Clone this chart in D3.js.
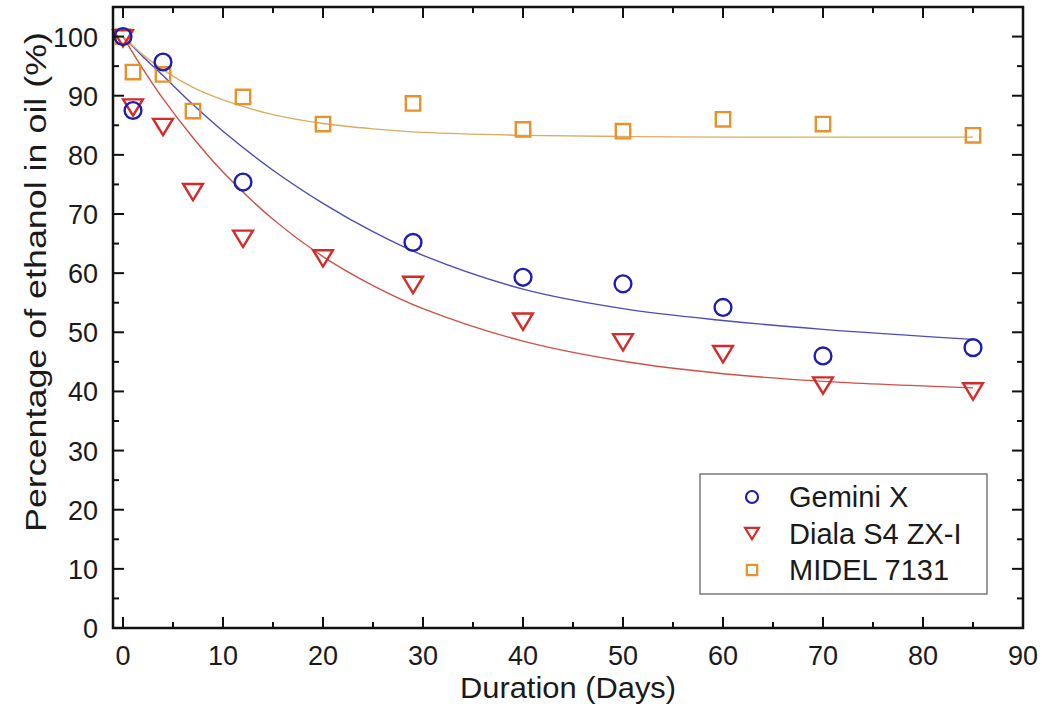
<!DOCTYPE html>
<html lang="en">
<head>
<meta charset="UTF-8">
<title>Ethanol in oil</title>
<style>
  html, body { margin: 0; padding: 0; background: #fff; overflow: hidden; }
  svg { display: block; font-family: Arial, 'Liberation Sans', sans-serif; }
</style>
</head>
<body>
<svg width="1056" height="707"></svg>
<script src="https://d3js.org/d3.v7.min.js"></script>
<script>
// measured points
const geminiDays = [0, 1, 4, 12, 29, 40, 50, 60, 70, 85];
const geminiPct = [100, 87.5, 95.7, 75.4, 65.2, 59.3, 58.2, 54.2, 46.0, 47.4];

const dialaDays = [0, 1, 4, 7, 12, 20, 29, 40, 50, 60, 70, 85];
const dialaPct = [99.7, 88.0, 84.7, 73.7, 65.8, 62.5, 58.0, 51.8, 48.3, 46.3, 41.0, 40.0];

const midelDays = [0, 1, 4, 7, 12, 20, 29, 40, 50, 60, 70, 85];
const midelPct = [100, 94.0, 93.6, 87.4, 89.8, 85.2, 88.7, 84.3, 84.0, 86.0, 85.2, 83.3];

// fitted curves
const fitDays = [0, 2, 4, 7, 10, 15, 20, 25, 30, 40, 50, 60, 70, 85];
const geminiFit = [100, 96.6, 93.4, 88.5, 84.0, 77.4, 71.8, 67.0, 63.0, 57.3, 54.0, 52.0, 50.5, 48.8];
const dialaFit = [100, 94.5, 89.5, 82.9, 77.1, 69.1, 62.8, 57.9, 54.0, 48.5, 45.1, 43.0, 41.7, 40.6];
const midelFit = [100, 96.9, 94.4, 91.4, 89.3, 86.8, 85.3, 84.4, 83.8, 83.3, 83.1, 83.0, 83.0, 83.0];

const seriesNames = ["Gemini X", "Diala S4 ZX-I", "MIDEL 7131"];
const xTicks = [0, 10, 20, 30, 40, 50, 60, 70, 80, 90];
const yTicks = [0, 10, 20, 30, 40, 50, 60, 70, 80, 90, 100];

const svg = d3.select("svg");
const L = 113, R = 1023, T = 7, B = 628;

const x = d3.scaleLinear().domain([-1, 90]).range([L, R]);
const y = d3.scaleLinear().domain([0, 105]).range([B, T]);

const series = [
  { name: seriesNames[0], days: geminiDays, pct: geminiPct, fit: geminiFit, shape: "circle", color: "#1d1db0", line: "#4c4cb8" },
  { name: seriesNames[1], days: dialaDays, pct: dialaPct, fit: dialaFit, shape: "tri", color: "#d42a2a", line: "#cf5048" },
  { name: seriesNames[2], days: midelDays, pct: midelPct, fit: midelFit, shape: "square", color: "#e8922c", line: "#dcac62" }
];

function markerPath(shape, s) {
  // s = half size
  if (shape === "circle") return `M${-s},0a${s},${s} 0 1,0 ${2*s},0a${s},${s} 0 1,0 ${-2*s},0Z`;
  if (shape === "square") return `M${-s},${-s}h${2*s}v${2*s}h${-2*s}Z`;
  const w = s * 1.15, h = s * 0.95;
  return `M${-w},${-h}L${w},${-h}L0,${h}Z`;
}

// fit lines
const line = d3.line().x(d => x(d[0])).y(d => y(d[1])).curve(d3.curveCatmullRom.alpha(0.5));
series.forEach(sr => {
  svg.append("path")
    .datum(fitDays.map((d, i) => [d, sr.fit[i]]))
    .attr("d", line)
    .attr("fill", "none")
    .attr("stroke", sr.line)
    .attr("stroke-width", 1.4);
});

// markers (orange first so blue/red sit on top like the reference)
[series[2], series[1], series[0]].forEach(sr => {
  const size = sr.shape === "circle" ? 8.4 : (sr.shape === "square" ? 7.2 : 8.6);
  svg.append("g").selectAll("path")
    .data(sr.days.map((d, i) => [d, sr.pct[i]]))
    .join("path")
    .attr("transform", d => `translate(${x(d[0])},${y(d[1])})`)
    .attr("d", markerPath(sr.shape, size))
    .attr("fill", "none")
    .attr("stroke", sr.color)
    .attr("stroke-width", 2.4);
});

// ticks
const xMinor = d3.range(5, 90, 10);
const yMinor = d3.range(5, 105, 10);
const tickG = svg.append("g").attr("stroke", "#111").attr("stroke-width", 2);
xTicks.forEach(v => {
  tickG.append("line").attr("x1", x(v)).attr("x2", x(v)).attr("y1", B).attr("y2", B - 11);
  tickG.append("line").attr("x1", x(v)).attr("x2", x(v)).attr("y1", T).attr("y2", T + 11);
});
xMinor.forEach(v => {
  tickG.append("line").attr("x1", x(v)).attr("x2", x(v)).attr("y1", B).attr("y2", B - 6);
  tickG.append("line").attr("x1", x(v)).attr("x2", x(v)).attr("y1", T).attr("y2", T + 6);
});
yTicks.forEach(v => {
  tickG.append("line").attr("y1", y(v)).attr("y2", y(v)).attr("x1", L).attr("x2", L + 11);
  tickG.append("line").attr("y1", y(v)).attr("y2", y(v)).attr("x1", R).attr("x2", R - 11);
});
yMinor.forEach(v => {
  tickG.append("line").attr("y1", y(v)).attr("y2", y(v)).attr("x1", L).attr("x2", L + 6);
  tickG.append("line").attr("y1", y(v)).attr("y2", y(v)).attr("x1", R).attr("x2", R - 6);
});

// frame
svg.append("rect")
  .attr("x", L).attr("y", T).attr("width", R - L).attr("height", B - T)
  .attr("fill", "none").attr("stroke", "#111").attr("stroke-width", 2.5);

// tick labels
svg.append("g").selectAll("text").data(xTicks).join("text")
  .attr("x", d => x(d)).attr("y", 665)
  .attr("text-anchor", "middle")
  .attr("font-size", 27).attr("fill", "#1a1a1a")
  .text(d => d);
svg.append("g").selectAll("text").data(yTicks).join("text")
  .attr("x", 98).attr("y", d => y(d) + 10)
  .attr("text-anchor", "end")
  .attr("font-size", 27).attr("fill", "#1a1a1a")
  .text(d => d);

// axis titles
svg.append("text")
  .attr("x", 568).attr("y", 698)
  .attr("text-anchor", "middle")
  .attr("font-size", 30).attr("fill", "#1a1a1a")
  .attr("textLength", 216).attr("lengthAdjust", "spacingAndGlyphs")
  .text("Duration (Days)");
svg.append("text")
  .attr("transform", "translate(46,282) rotate(-90)")
  .attr("text-anchor", "middle")
  .attr("font-size", 30).attr("fill", "#1a1a1a")
  .attr("textLength", 500).attr("lengthAdjust", "spacingAndGlyphs")
  .text("Percentage of ethanol in oil (%)");

// legend
const lg = svg.append("g");
lg.append("rect")
  .attr("x", 700).attr("y", 474).attr("width", 287).attr("height", 120)
  .attr("fill", "#fff").attr("stroke", "#666").attr("stroke-width", 1.3);
series.forEach((sr, i) => {
  const cy = 497 + i * 36.5;
  lg.append("path")
    .attr("transform", `translate(752,${cy})`)
    .attr("d", markerPath(sr.shape, sr.shape === "square" ? 5.2 : 6))
    .attr("fill", "none").attr("stroke", sr.color).attr("stroke-width", 2.2);
  lg.append("text")
    .attr("x", 789).attr("y", cy + 10)
    .attr("font-size", 29).attr("fill", "#1a1a1a")
    .text(sr.name);
});
</script>
</body>
</html>
